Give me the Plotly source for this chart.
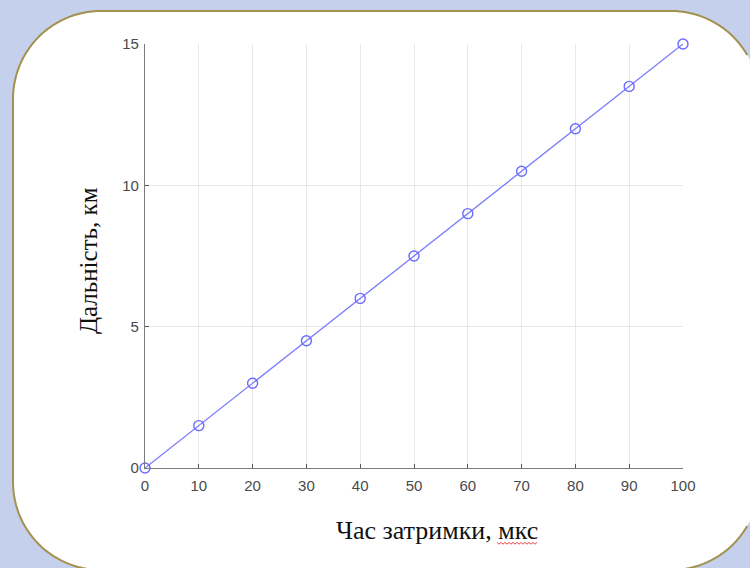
import math
import plotly.graph_objects as go

delay_us = [0, 10, 20, 30, 40, 50, 60, 70, 80, 90, 100]
range_km = [0, 1.5, 3, 4.5, 6, 7.5, 9, 10.5, 12, 13.5, 15]
x_ticks = [0, 10, 20, 30, 40, 50, 60, 70, 80, 90, 100]
y_ticks = [0, 5, 10, 15]
x_title = "Час затримки, мкс"
y_title = "Дальність, км"

W, H = 750, 568
L, R, T, B = 145, 683, 44, 468  # plot area in pixels


def px(x):
    return (x - L) / (R - L)


def py(y):
    return (B - y) / (B - T)


def to_path(pts, close=False):
    s = "M " + " L ".join(f"{px(x):.5f},{py(y):.5f}" for x, y in pts)
    return s + (" Z" if close else "")


# rounded card outline (screen pixels, clockwise)
x0, x1, y0, y1, rad = 13, 759, 11, 570, 88
card = []
corners = [((x1 - rad, y0 + rad), -90), ((x1 - rad, y1 - rad), 0),
           ((x0 + rad, y1 - rad), 90), ((x0 + rad, y0 + rad), 180)]
for (cx, cy), a0 in corners:
    for j in range(31):
        a = math.radians(a0 + 90 * j / 30)
        card.append((cx + rad * math.cos(a), cy + rad * math.sin(a)))

# blue surround: outer rectangle (counter-clockwise) + card hole (clockwise)
outer = [(-5, -5), (-5, H + 5), (W + 5, H + 5), (W + 5, -5)]
surround = to_path(outer, True) + " " + to_path(card, True)

# border: skip the part that lies beyond the right edge of the picture
idx = [i for i, (x, y) in enumerate(card) if x > W - 1]
b0, b1 = idx[0], idx[-1]
border_pts = card[b1 + 1:] + card[:b0]
border = to_path(border_pts)

# spell-check squiggle under "мкс"
sq = []
xx = 497.0
i = 0
while xx <= 538:
    sq.append((xx, 543 + (1.2 if i % 2 else -0.6)))
    xx += 2
    i += 1
squiggle = to_path(sq)

fig = go.Figure()
fig.add_trace(go.Scatter(
    x=delay_us, y=range_km, mode="lines+markers",
    line=dict(color="#7b7bff", width=1.3),
    marker=dict(symbol="circle-open", size=10, color="#6b6bff", line=dict(width=1.4)),
    showlegend=False, cliponaxis=False,
))

fig.add_shape(type="path", xref="paper", yref="paper", path=surround,
              fillcolor="#c5d1ec", line=dict(width=0), layer="below")
fig.add_shape(type="path", xref="paper", yref="paper", path=border,
              line=dict(color="#a39150", width=2), layer="below")
fig.add_shape(type="path", xref="paper", yref="paper", path=squiggle,
              line=dict(color="#e04848", width=1))

axis_common = dict(
    showline=True, linecolor="#7a7a7a", linewidth=1.2,
    showgrid=True, gridcolor="#e8e8e8", gridwidth=1,
    ticks="inside", ticklen=4, tickcolor="#555555", tickwidth=1,
    tickfont=dict(family="Liberation Sans, Arial", size=15, color="#4a4a4a"),
    zeroline=False, mirror=False,
)

fig.update_xaxes(range=[0, 100], tickvals=x_ticks, ticklabelstandoff=4, **axis_common)
fig.update_yaxes(range=[0, 15], tickvals=y_ticks, ticklabelstandoff=2, **axis_common)

fig.add_annotation(text=x_title, xref="paper", yref="paper", x=px(437), y=py(530),
                   showarrow=False, xanchor="center", yanchor="middle",
                   font=dict(family="Liberation Serif, Times New Roman", size=26, color="#111111"))
fig.add_annotation(text=y_title, xref="paper", yref="paper", x=px(88), y=py(261),
                   showarrow=False, xanchor="center", yanchor="middle", textangle=-90,
                   font=dict(family="Liberation Serif, Times New Roman", size=25, color="#111111"))

fig.update_layout(
    width=W, height=H,
    margin=dict(l=L, r=W - R, t=T, b=H - B, pad=0),
    paper_bgcolor="white", plot_bgcolor="rgba(0,0,0,0)",
)

fig.write_html("out.html", config={"displayModeBar": False},
               post_script="document.body.style.margin='0';document.body.style.overflow='hidden';")
